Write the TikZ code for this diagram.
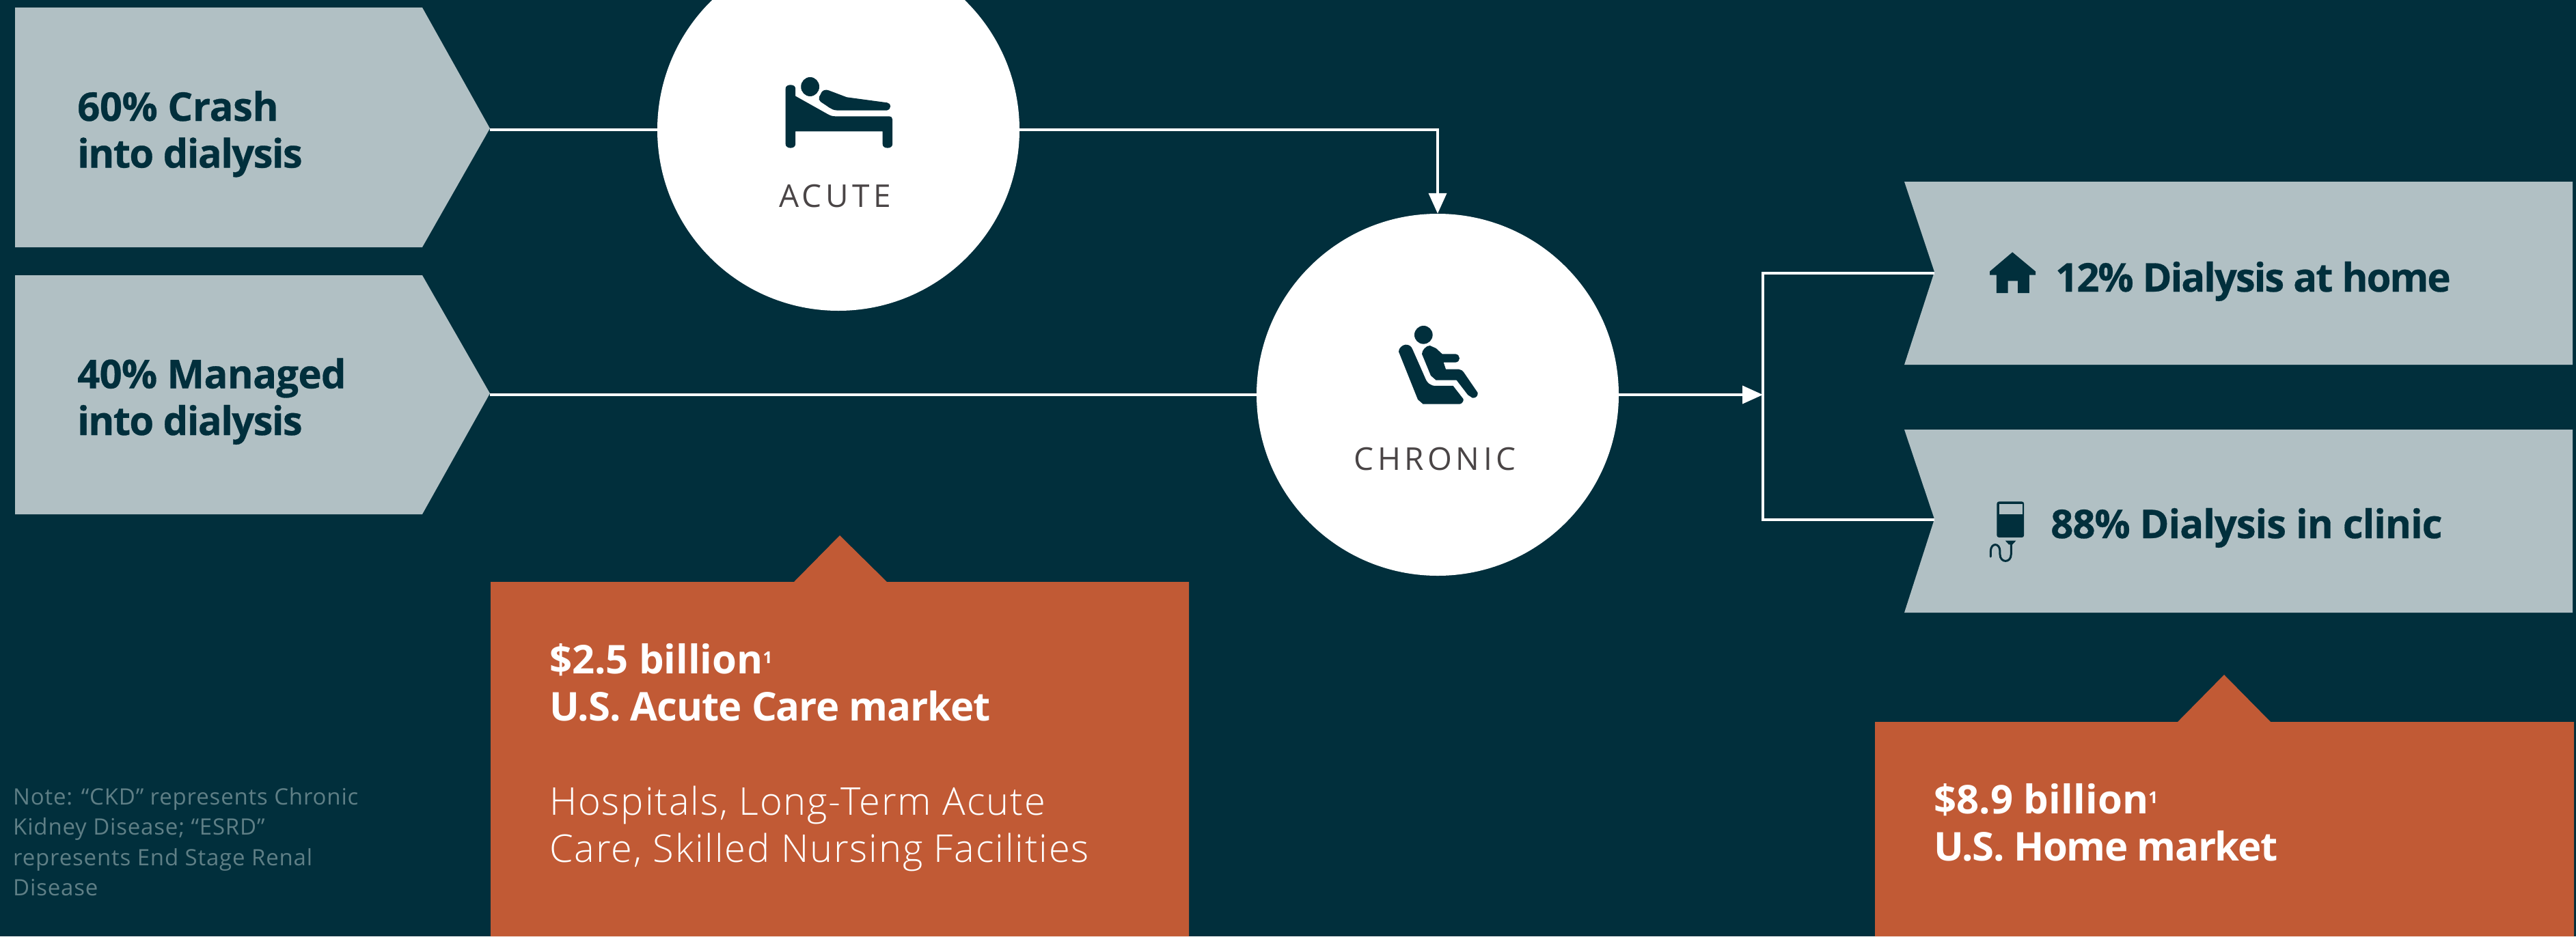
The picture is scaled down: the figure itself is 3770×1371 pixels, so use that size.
\documentclass[tikz,border=0pt]{standalone}
\usepackage{fontspec}
\usetikzlibrary{arrows.meta,calc}
\setmainfont{Open Sans}
\newfontfamily\hbfont[LetterSpace=-3.5,BoldFeatures={FakeBold=0.5}]{Open Sans}
\newfontfamily\wbfont[LetterSpace=-3.5]{Open Sans}
\newfontfamily\capfont[LetterSpace=12]{Open Sans}
\newfontfamily\ltfont[LetterSpace=3.3]{Open Sans Light}
\newfontfamily\ntfont[LetterSpace=2.5]{Open Sans}
\definecolor{bgc}{HTML}{012F3C}
\definecolor{grayc}{HTML}{B1C0C4}
\definecolor{orc}{HTML}{C15A35}
\definecolor{capc}{HTML}{4A4546}
\definecolor{notec}{HTML}{5F7F86}
\tikzset{
 x=1pt,y=-1pt,
 greybox/.style={fill=grayc,draw=none},
 orbox/.style={fill=orc,draw=none},
 bubble/.style={circle,fill=white,draw=none,minimum size=530pt,inner sep=0pt},
 conn/.style={draw=white,line width=4pt},
 connarrow/.style={conn,-{Triangle[length=30pt,width=26pt]}},
 dark/.style={fill=bgc,draw=none},
 labeldark/.style={inner sep=0pt,anchor=base west,align=left,text=bgc,font=\hbfont\bfseries\fontsize{58}{68.5}\selectfont},
 labelwhite/.style={inner sep=0pt,anchor=base west,align=left,text=white,font=\wbfont\bfseries\fontsize{58}{68.5}\selectfont},
 labellight/.style={inner sep=0pt,anchor=base west,align=left,text=white,font=\ltfont\fontsize{56}{69}\selectfont},
 capt/.style={inner sep=0pt,anchor=base,text=capc,font=\capfont\fontsize{46}{50}\selectfont},
 notet/.style={inner sep=0pt,anchor=base west,align=left,text=notec,font=\ntfont\fontsize{33}{44.3}\selectfont}
}
\newcommand{\onesup}{\raisebox{15pt}{\fontsize{24}{24}\selectfont 1}}
\newcommand{\lsp}[2]{{\addfontfeature{LetterSpace=#1}#2}}
\begin{document}
\begin{tikzpicture}
\clip (0,0) rectangle (3770,1371);
\fill[bgc] (0,0) rectangle (3770,1371);
% left chevrons
\fill[greybox] (22,11) -- (618,11) -- (717,188) -- (618,362) -- (22,362) -- cycle;
\fill[greybox] (22,403) -- (618,403) -- (717,576) -- (618,753) -- (22,753) -- cycle;
\coordinate (tipa) at (717,190);
\coordinate (tipb) at (717,578);
% right chevrons
\fill[greybox] (2787,266) -- (3765,266) -- (3765,534) -- (2787,534) -- (2831,398) -- cycle;
\fill[greybox] (2787,629) -- (3765,629) -- (3765,897) -- (2787,897) -- (2831,760) -- cycle;
\coordinate (notcha) at (2831,400);
\coordinate (notchb) at (2831,761);
\coordinate (split) at (2580,578);
% orange boxes
\fill[orbox] (718,852) -- (1162,852) -- (1229,784) -- (1298,852) -- (1740,852) -- (1740,1371) -- (718,1371) -- cycle;
\fill[orbox] (2744,1057) -- (3187,1057) -- (3255,988) -- (3323,1057) -- (3767,1057) -- (3767,1371) -- (2744,1371) -- cycle;
% circles
\node[bubble] (acute) at (1227,190) {};
\node[bubble] (chronic) at (2104,578) {};
% connectors
\draw[conn] (tipa) -- (acute.west);
\draw[conn] (tipb) -- (chronic.west);
\draw[connarrow] (acute.east) -| (chronic.north);
\draw[connarrow] (chronic.east) -- (split);
\draw[conn,line join=miter] (notcha) -- (split |- notcha) -- (split |- notchb) -- (notchb);
% labels (base anchor of a multi-line node is its last line)
\node[labeldark] (l1) at (113,245.5) {\lsp{-0.8}{60\% Crash}\\\lsp{-2.8}{into dialysis}};
\node[labeldark] (l2) at (113,637) {\lsp{-1.3}{40\% Managed}\\\lsp{-2.8}{into dialysis}};
\node[labeldark] (r1) at (3008,427) {12\% Dialysis at home};
\node[labeldark] (r2) at (3001,788) {\lsp{-1.8}{88\% Dialysis in clinic}};
\node[capt] (acutet) at (1222,303) {ACUTE};
\node[capt] (chront) at (2100,688) {CHRONIC};
\node[labelwhite] (m1) at (804,1055) {\lsp{0}{\$2.5 billion}\onesup\\\lsp{-1.8}{U.S. Acute Care market}};
\node[labellight] (m1b) at (804,1262) {Hospitals, Long-Term Acute\\Care, Skilled Nursing Facilities};
\node[labelwhite] (m2) at (2830,1260) {\lsp{0.3}{\$8.9 billion}\onesup\\\lsp{-2.5}{U.S. Home market}};
\node[notet] (note) at (19,1311.5) {Note: “CKD” represents Chronic\\Kidney Disease; “ESRD”\\represents End Stage Renal\\Disease};
% bed icon
\begin{scope}[shift={(1000pt,0pt)},x=0.3827pt,y=-0.3333pt]
\fill[dark] (391,390) .. controls (391,378) and (400,373) .. (410,373) .. controls (420,373) and (429,378) .. (429,390) -- (429,422) -- (550,500) .. controls (562,508) and (570,511) .. (582,511) -- (785,511) .. controls (795,511) and (800,516) .. (800,525) -- (800,632) .. controls (800,644) and (792,650) .. (781,650) .. controls (770,650) and (762,644) .. (762,632) -- (762,577) -- (429,577) -- (429,632) .. controls (429,644) and (420,650) .. (410,650) .. controls (400,650) and (391,644) .. (391,632) -- cycle;
\fill[dark] (485,381) ellipse [x radius=35,y radius=42];
\fill[dark] (520,425) -- (529,405) .. controls (533,396) and (546,392) .. (556,397) -- (625,427) -- (780,451) .. controls (796,454) and (797,480) .. (778,485) -- (590,485) .. controls (575,484) and (568,480) .. (560,474) -- (525,447) .. controls (519,441) and (517,433) .. (520,425) -- cycle;
\end{scope}
% chair icon
\begin{scope}[shift={(1900pt,-400pt)},x=0.3333pt,y=-0.3333pt]
\fill[dark] (441,345) .. controls (440,330) and (458,314) .. (472,314) .. controls (488,314) and (497,322) .. (502,335) -- (555,455) .. controls (565,483) and (580,495) .. (605,495) -- (680,495) -- (725,553) .. controls (727,562) and (718,575) .. (708,575) -- (548,575) -- (525,555) -- cycle;
\fill[dark] (550,271) circle [radius=40];
\fill[dark] (543,355) .. controls (543,338) and (562,318) .. (578,318) -- (605,330) -- (632,355) -- (690,355) .. controls (714,358) and (714,390) .. (690,392) -- (638,392) -- (648,422) -- (705,422) .. controls (715,424) and (722,428) .. (727,436) -- (788,525) .. controls (790,538) and (780,550) .. (765,548) -- (745,535) -- (695,470) -- (605,470) -- (582,450) -- cycle;
\end{scope}
% house icon
\begin{scope}[shift={(2750pt,-250pt)},x=0.6506pt,y=-0.4337pt]
\fill[dark] (300,275) -- (352,340) -- (352,352) -- (338,352) -- (338,413) -- (312,413) -- (312,372) -- (290,372) -- (290,413) -- (264,413) -- (264,352) -- (249,352) -- (249,340) -- cycle;
% iv bag icon
\fill[dark,rounded corners=3pt] (265,1117) rectangle (326,1238);
\fill[grayc] (270,1125) rectangle (322,1160);
\fill[dark] (284,1249) -- (308,1249) -- (300,1262) -- (292,1262) -- cycle;
\draw[bgc,line width=3pt,line cap=round] (297,1262) -- (297,1295) .. controls (297,1325) and (272,1325) .. (272,1295) -- (272,1285) .. controls (272,1255) and (251,1255) .. (251,1285) -- (251,1303);
\end{scope}
\end{tikzpicture}
\end{document}
